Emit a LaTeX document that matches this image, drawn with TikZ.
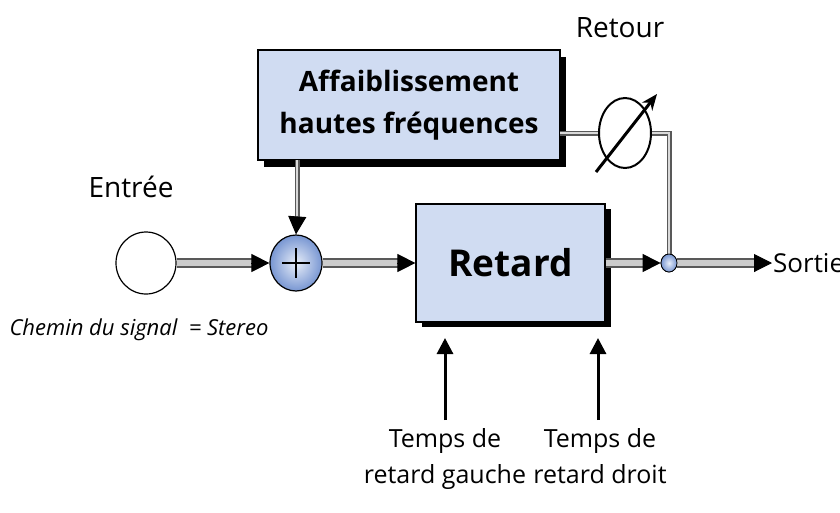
\documentclass[tikz,border=0pt]{standalone}
\usepackage{fontspec}
\setmainfont{Open Sans}
\usetikzlibrary{arrows.meta,shapes.geometric,calc}
\definecolor{boxblue}{RGB}{208,220,242}
\definecolor{ballblue}{RGB}{120,150,210}
\tikzset{
  box/.style={draw=black,line width=1.2pt,fill=boxblue,align=center,
    font=\bfseries,inner sep=0pt},
  shadow/.style={fill=black},
  sig/.style={draw=black!65,line width=10pt},
  sigin/.style={draw=black!20,line width=6pt},
  fb/.style={draw=black!65,line width=5pt},
  fbin/.style={draw=black!15,line width=2.2pt},
  tip/.style={-{Triangle[length=18pt,width=18pt]}},
  lbl/.style={font=\fontsize{28}{32}\selectfont},
}
\begin{document}
\begin{tikzpicture}[x=1pt,y=-1pt]
\useasboundingbox (0,0) rectangle (840,512);
% shadows
\fill[shadow] (264,57) rectangle (566,167);
\fill[shadow] (422,209) rectangle (611,327);
% boxes
\node[box,minimum width=302pt,minimum height=110pt,font=\bfseries\fontsize{28}{42}\selectfont] (filtre) at (409,105) {Affaiblissement\\hautes fréquences};
\node[box,minimum width=189pt,minimum height=118pt,font=\bfseries\fontsize{37}{40}\selectfont] (retard) at (510.5,263) {Retard};
\coordinate (fbout) at (560,133);
\coordinate (coin) at (669,133);
\coordinate (coindown) at (297,160);
% nodes
\node[ellipse,draw,line width=1.2pt,fill=white,minimum width=60pt,minimum height=62pt] (entree) at (146,263) {};
\node[ellipse,draw,line width=1.2pt,inner color=boxblue!50,outer color=ballblue,minimum width=52pt,minimum height=56pt,inner sep=0pt] (somme) at (296,263) {};
\node[ellipse,draw,line width=2pt,fill=white,minimum width=52pt,minimum height=70pt] (retour) at (625,133) {};
\node[ellipse,draw,line width=0.8pt,inner color=boxblue!50,outer color=ballblue,minimum width=16pt,minimum height=18pt,inner sep=0pt] (jonction) at (669,263) {};
% feedback
\draw[fb] (fbout) -- (retour.west) (retour.east) -- (coin) -- (jonction.north);
\draw[fbin] (fbout) -- (retour.west) (retour.east) -- (coin) -- (jonction.north);
\draw[fb] (coindown) -- ++(0,62);
\draw[fbin] (coindown) -- ++(0,62);
\draw[tip,line width=1pt] ($(coindown)+(0,60)$) -- (somme.north);
% main signal
\foreach \a/\b in {entree.east/somme.west, somme.east/retard.west, retard.east/jonction.west, jonction.east/{772,263}}{
  \draw[sig] (\a) -- ($(\b)+(-16,0)$);
  \draw[sigin] (\a) -- ($(\b)+(-16,0)$);
  \draw[tip,line width=1pt] ($(\b)+(-18,0)$) -- (\b);
}
\shade[draw,line width=0.8pt,inner color=boxblue!50,outer color=ballblue] (jonction) ellipse (8pt and 9pt);
\draw[line width=2.5pt] (somme.center) +(-14,0) -- +(14,0) +(0,-15) -- +(0,15);
\draw[line width=3pt,-{Stealth[length=16pt,width=13pt]}] (596,172) -- (657,94);
% labels
\node[lbl] at (620,28) {Retour};
\node[lbl] at (131,187) {Entrée};
\node[lbl,anchor=west,inner sep=1pt,font=\fontsize{26}{30}\selectfont] at (772,263) {Sortie};
\node[font=\itshape\fontsize{22}{26}\selectfont,anchor=west] at (6,330) {Chemin du signal \ = Stereo};
\coordinate (tg) at (445,420);
\coordinate (td) at (598,420);
\draw[line width=3pt,-{Triangle[length=16pt,width=16pt]}] (tg) -- (445,338);
\draw[line width=3pt,-{Triangle[length=16pt,width=16pt]}] (td) -- (598,338);
\node[align=center,font=\fontsize{25}{36}\selectfont,anchor=north] at (445,425) {Temps de\\retard gauche};
\node[align=center,font=\fontsize{25}{36}\selectfont,anchor=north] at (600,425) {Temps de\\retard droit};
\end{tikzpicture}
\end{document}
